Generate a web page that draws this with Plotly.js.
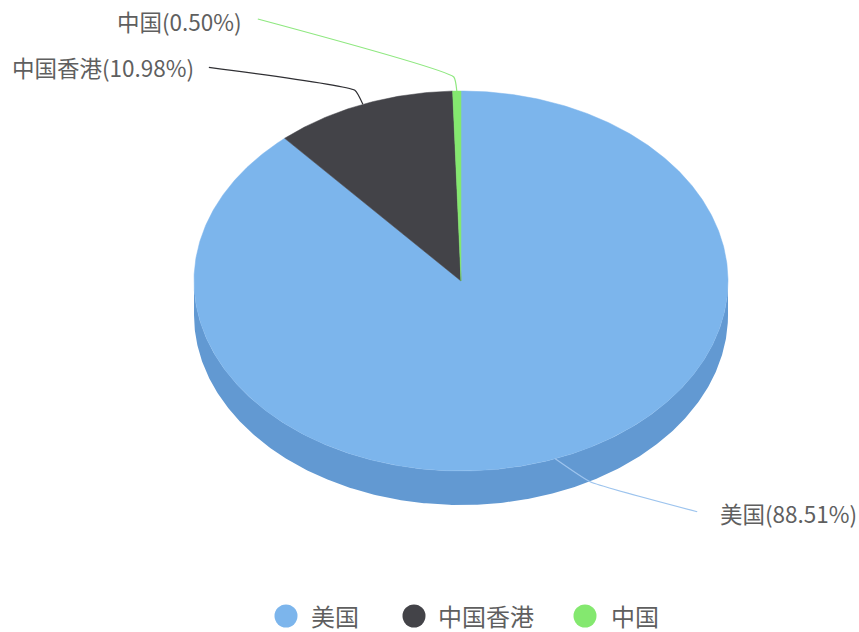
<!DOCTYPE html>
<html>
<head>
<meta charset="utf-8">
<script src="https://cdn.plot.ly/plotly-3.0.1.min.js"></script>
<style>html,body{margin:0;padding:0;background:#fff}#chart{width:859px;height:632px}</style>
</head>
<body>
<div id="chart"></div>
<script>
// Data
const categories = ['美国', '中国香港', '中国'];
const shares = [88.51, 10.98, 0.50];
const percentLabels = ['88.51%', '10.98%', '0.50%'];

// Styles
const colors = ['#7cb5ec', '#434348', '#84e86f'];
const sideColor = '#6299d2';
const lineColors = ['#9dc4ee', '#2f2f33', '#8fe880'];
const textColor = '#5f5f5f';
const fontFamily = '"Noto Sans CJK SC", "Noto Sans", sans-serif';

// Geometry of the tilted disc (canvas pixels)
const W = 859, H = 632;
const cx = 461, cy = 281, rx = 267, ry = 190, depth = 34;

// Leader line offsets from each slice anchor, and label placement
const leaderElbow = [[35, 23], [-8, -14], [-3, -14]];
const leaderEnd   = [[142, 53], [-154, -37], [-199, -72]];
const labelOffset = [[21, 1], [-13, 0], [-14, 2]];

// Legend placement
const legendY = 616;
const legendMarkerX = [286, 414, 585];
const legendTextX = [310, 437, 610];

function pt(deg, yShift) {
  const a = deg * Math.PI / 180;
  return [cx + rx * Math.sin(a), cy + (yShift || 0) - ry * Math.cos(a)];
}
function arc(from, to, yShift) {
  const out = [];
  const n = Math.max(2, Math.ceil(Math.abs(to - from) * 2));
  for (let i = 0; i <= n; i++) out.push(pt(from + (to - from) * i / n, yShift));
  return out;
}

const total = shares.reduce((a, b) => a + b, 0);
const traces = [];

// Side wall of the disc
const wall = arc(90, 270, 0).concat(arc(270, 90, depth));
traces.push({
  x: wall.map(p => p[0]), y: wall.map(p => p[1]),
  mode: 'lines', fill: 'toself', fillcolor: sideColor,
  line: {width: 0, color: sideColor}, hoverinfo: 'skip', showlegend: false
});

// Slices
let start = 0;
const mids = [];
shares.forEach((v, i) => {
  const sweep = v / total * 360;
  const edge = [[cx, cy]].concat(arc(start, start + sweep, 0), [[cx, cy]]);
  traces.push({
    x: edge.map(p => p[0]), y: edge.map(p => p[1]), name: categories[i],
    mode: 'lines', fill: 'toself', fillcolor: colors[i],
    line: {width: 0.5, color: colors[i]}, hoverinfo: 'name', showlegend: false
  });
  mids.push(start + sweep / 2);
  start += sweep;
});

// Leader lines and labels
const annotations = [];
shares.forEach((v, i) => {
  const a = pt(mids[i], 0);
  const b = [a[0] + leaderElbow[i][0], a[1] + leaderElbow[i][1]];
  const c = [a[0] + leaderEnd[i][0], a[1] + leaderEnd[i][1]];
  traces.push({
    x: [a[0], b[0], c[0]], y: [a[1], b[1], c[1]],
    mode: 'lines', line: {width: 1.2, color: lineColors[i], shape: 'spline', smoothing: 0.4},
    hoverinfo: 'skip', showlegend: false
  });
  annotations.push({
    x: c[0] + labelOffset[i][0], y: c[1] + labelOffset[i][1],
    xref: 'x', yref: 'y', xanchor: i === 0 ? 'left' : 'right', yanchor: 'middle',
    text: categories[i] + '(' + percentLabels[i] + ')', showarrow: false,
    font: {family: fontFamily, size: 22.5, color: textColor}
  });
});

// Legend
traces.push({
  x: legendMarkerX, y: categories.map(() => legendY),
  mode: 'markers', marker: {size: 23, color: colors}, hoverinfo: 'skip', showlegend: false
});
categories.forEach((c, i) => annotations.push({
  x: legendTextX[i] - 1, y: legendY - 1, xref: 'x', yref: 'y',
  xanchor: 'left', yanchor: 'middle', text: c, showarrow: false,
  font: {family: fontFamily, size: 24, color: textColor}
}));

Plotly.newPlot('chart', traces, {
  width: W, height: H,
  margin: {l: 0, r: 0, t: 0, b: 0},
  paper_bgcolor: '#ffffff', plot_bgcolor: '#ffffff',
  xaxis: {range: [0, W], visible: false, fixedrange: true},
  yaxis: {range: [H, 0], visible: false, fixedrange: true},
  annotations: annotations,
  showlegend: false
}, {displayModeBar: false, staticPlot: true});
</script>
</body>
</html>
